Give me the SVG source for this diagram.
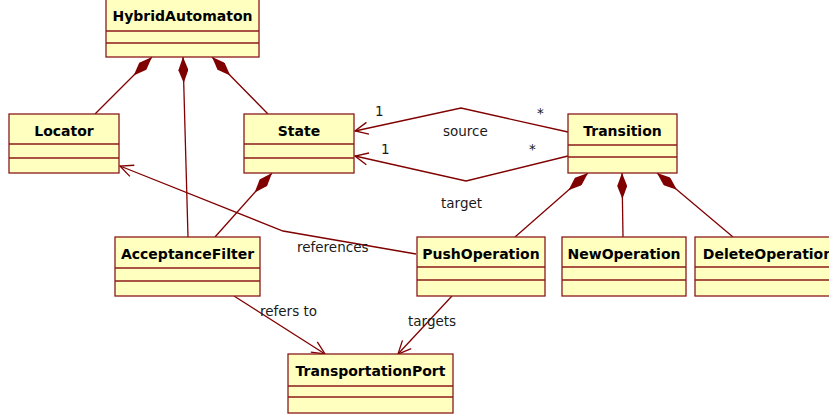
<svg xmlns="http://www.w3.org/2000/svg" width="829" height="417" viewBox="0 0 829 417">
  <style>
    .box { fill: #FFFFC0; stroke: #8B1A1A; stroke-width: 1.3; }
    .sep { stroke: #8B1A1A; stroke-width: 1.3; }
    .name { font-family: "DejaVu Sans", Verdana, sans-serif; font-weight: bold; font-size: 14px; fill: #000; text-anchor: middle; }
    .lbl { font-family: "DejaVu Sans", Verdana, sans-serif; font-size: 13.5px; fill: #1a1a1a; }
    .edge { fill: none; stroke: #800000; stroke-width: 1.3; }
  </style>
  <defs>
    <marker id="diamond" markerUnits="userSpaceOnUse" viewBox="0 0 26 10" markerWidth="26" markerHeight="10" refX="0" refY="5" orient="auto">
      <path d="M0,5 L13,0 L26,5 L13,10 Z" fill="#800000"/>
    </marker>
    <marker id="open" markerUnits="userSpaceOnUse" viewBox="0 0 15 14" markerWidth="15" markerHeight="14" refX="14" refY="7" orient="auto">
      <path d="M1,1 L14,7 L1,13" fill="none" stroke="#800000" stroke-width="1.3"/>
    </marker>
  </defs>
  <rect width="829" height="417" fill="#fff"/>

  <g id="connectors">
    <path class="edge" d="M152,57 L95,114" marker-start="url(#diamond)"/>
    <path class="edge" d="M183,57 L188,237" marker-start="url(#diamond)"/>
    <path class="edge" d="M212,57 L268,114" marker-start="url(#diamond)"/>
    <path class="edge" d="M272,173 L215,237" marker-start="url(#diamond)"/>
    <path class="edge" d="M568,132 L461,108 L355,131" marker-end="url(#open)"/>
    <path class="edge" d="M568,156 L466,181 L355,156" marker-end="url(#open)"/>
    <path class="edge" d="M416,254 L283,231 L120,166" marker-end="url(#open)"/>
    <path class="edge" d="M588,173 L515,237" marker-start="url(#diamond)"/>
    <path class="edge" d="M622,173 L623,237" marker-start="url(#diamond)"/>
    <path class="edge" d="M657,173 L733,237" marker-start="url(#diamond)"/>
    <path class="edge" d="M234,296 L325,354" marker-end="url(#open)"/>
    <path class="edge" d="M452,296 L398,354" marker-end="url(#open)"/>
    <text class="lbl" x="375" y="116">1</text>
    <text class="lbl" x="537" y="118">*</text>
    <text class="lbl" x="443" y="136">source</text>
    <text class="lbl" x="381" y="154">1</text>
    <text class="lbl" x="529" y="154">*</text>
    <text class="lbl" x="441" y="208">target</text>
    <text class="lbl" x="297" y="252">references</text>
    <text class="lbl" x="260" y="316">refers to</text>
    <text class="lbl" x="408" y="326">targets</text>
  </g>

  <g id="HybridAutomaton">
    <rect class="box" x="106" y="-1" width="153" height="58"/>
    <line class="sep" x1="106" y1="31" x2="259" y2="31"/>
    <line class="sep" x1="106" y1="43" x2="259" y2="43"/>
    <text class="name" x="182.5" y="21">HybridAutomaton</text>
  </g>
  <g id="Locator">
    <rect class="box" x="9" y="114" width="110" height="59"/>
    <line class="sep" x1="9" y1="144" x2="119" y2="144"/>
    <line class="sep" x1="9" y1="158" x2="119" y2="158"/>
    <text class="name" x="64" y="136">Locator</text>
  </g>
  <g id="State">
    <rect class="box" x="244" y="114" width="110" height="59"/>
    <line class="sep" x1="244" y1="144" x2="354" y2="144"/>
    <line class="sep" x1="244" y1="158" x2="354" y2="158"/>
    <text class="name" x="299" y="136">State</text>
  </g>
  <g id="Transition">
    <rect class="box" x="568" y="114" width="109" height="59"/>
    <line class="sep" x1="568" y1="145" x2="677" y2="145"/>
    <line class="sep" x1="568" y1="157" x2="677" y2="157"/>
    <text class="name" x="622.5" y="136">Transition</text>
  </g>
  <g id="AcceptanceFilter">
    <rect class="box" x="115" y="237" width="145" height="59"/>
    <line class="sep" x1="115" y1="268" x2="260" y2="268"/>
    <line class="sep" x1="115" y1="281" x2="260" y2="281"/>
    <text class="name" x="187.5" y="259">AcceptanceFilter</text>
  </g>
  <g id="PushOperation">
    <rect class="box" x="417" y="237" width="128" height="59"/>
    <line class="sep" x1="417" y1="267" x2="545" y2="267"/>
    <line class="sep" x1="417" y1="280" x2="545" y2="280"/>
    <text class="name" x="481" y="259">PushOperation</text>
  </g>
  <g id="NewOperation">
    <rect class="box" x="562" y="237" width="124" height="59"/>
    <line class="sep" x1="562" y1="267" x2="686" y2="267"/>
    <line class="sep" x1="562" y1="280" x2="686" y2="280"/>
    <text class="name" x="624" y="259">NewOperation</text>
  </g>
  <g id="DeleteOperation">
    <rect class="box" x="695" y="237" width="146" height="59"/>
    <line class="sep" x1="695" y1="267" x2="841" y2="267"/>
    <line class="sep" x1="695" y1="280" x2="841" y2="280"/>
    <text class="name" x="768" y="259">DeleteOperation</text>
  </g>
  <g id="TransportationPort">
    <rect class="box" x="288" y="354" width="165" height="59"/>
    <line class="sep" x1="288" y1="386" x2="453" y2="386"/>
    <line class="sep" x1="288" y1="397" x2="453" y2="397"/>
    <text class="name" x="370.5" y="376">TransportationPort</text>
  </g>
</svg>
